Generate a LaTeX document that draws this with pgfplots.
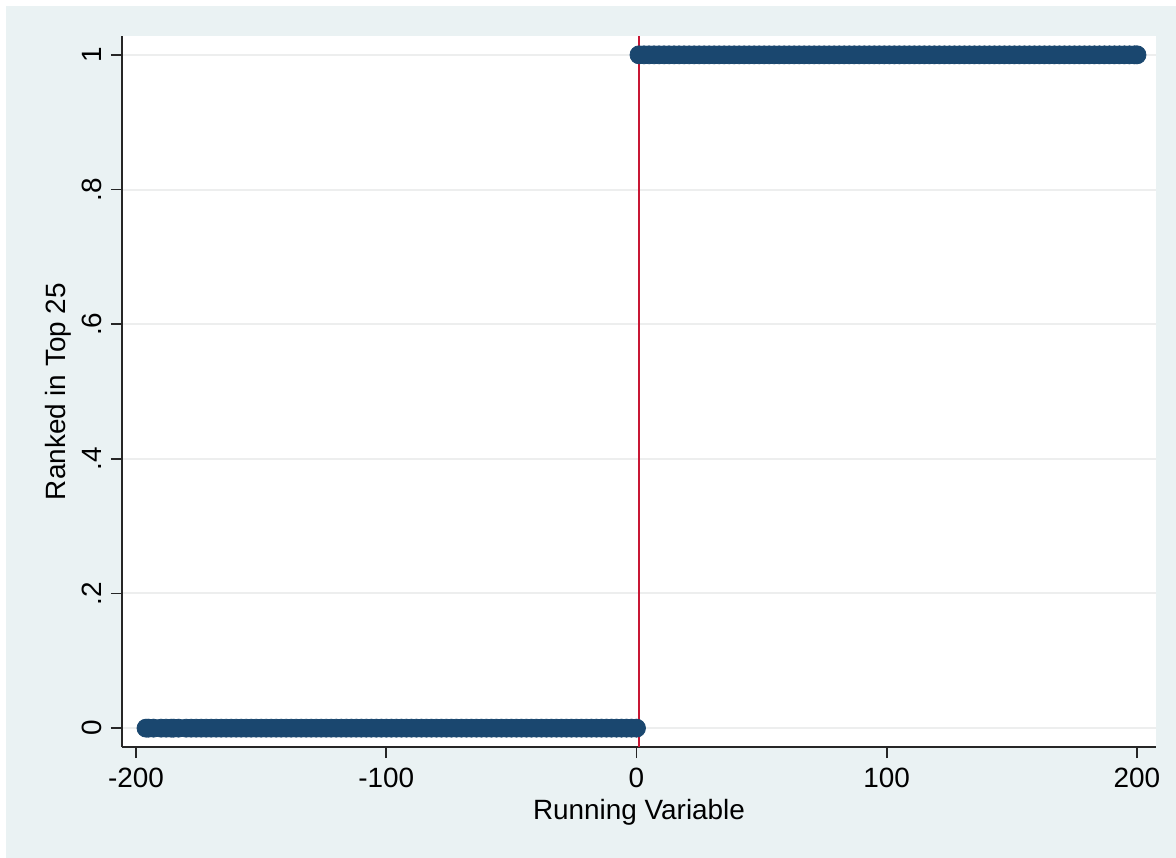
\documentclass[border=0pt]{standalone}
\usepackage{pgfplots}
\pgfplotsset{compat=1.18}
\usepackage{fontspec}
\setmainfont{Liberation Sans}
\definecolor{bgblue}{HTML}{EAF2F3}
\definecolor{stnavy}{HTML}{1A476F}
\definecolor{stred}{RGB}{200,22,52}
\definecolor{gridc}{HTML}{EDEEEE}
\begin{document}
\fontsize{14}{16}\selectfont
\begin{tikzpicture}
\fill[white] (-61bp,-55.5bp) rectangle (527bp,373.5bp);
\fill[bgblue] (-58bp,-55.5bp) rectangle (527bp,370.5bp);
\begin{axis}[
  at={(0,0)}, anchor=south west,
  scale only axis, width=517bp, height=355.5bp,
  xmin=-205.6, xmax=207.6, ymin=-0.028, ymax=1.028,
  axis x line*=bottom, axis y line*=left,
  axis line style={-, line width=0.8bp, black!85},
  axis background/.style={fill=white},
  xtick={-200,-100,0,100,200},
  xticklabels={-200,-100,0,100,200},
  ytick={0,0.2,0.4,0.6,0.8,1},
  yticklabels={0,.2,.4,.6,.8,1},
  tick align=outside, major tick length=5.5bp,
  tick style={line width=0.8bp, black!85},
  ymajorgrids, major grid style={gridc, line width=1bp},
  xticklabel style={font=\fontsize{14}{16}\selectfont},
  yticklabel style={rotate=90, font=\fontsize{14}{16}\selectfont},
  xlabel={Running Variable}, ylabel={Ranked in Top 25},
  label style={font=\fontsize{14}{16}\selectfont},
  xlabel style={at={(axis description cs:0.5,-0.0914)}, anchor=center},
  ylabel style={at={(axis description cs:-0.0619,0.5)}, anchor=center},
  clip=false,
]
\addplot[only marks, mark=*, mark size=4.5bp, color=stnavy, mark options={fill=stnavy, draw=stnavy}] table[row sep=\\] {
x y\\
-196 0\\ -195 0\\ -193 0\\ -190 0\\ -188 0\\ -186 0\\ -185 0\\ -183 0\\ -180 0\\ -178 0\\
-176 0\\ -174 0\\ -172 0\\ -170 0\\ -168 0\\ -166 0\\ -164 0\\ -162 0\\ -160 0\\ -158 0\\
-156 0\\ -154 0\\ -152 0\\ -150 0\\ -148 0\\ -146 0\\ -144 0\\ -142 0\\ -140 0\\ -138 0\\
-136 0\\ -134 0\\ -132 0\\ -130 0\\ -128 0\\ -126 0\\ -124 0\\ -122 0\\ -120 0\\ -118 0\\
-116 0\\ -114 0\\ -112 0\\ -110 0\\ -108 0\\ -106 0\\ -104 0\\ -102 0\\ -100 0\\ -98 0\\
-96 0\\ -94 0\\ -92 0\\ -90 0\\ -88 0\\ -86 0\\ -84 0\\ -82 0\\ -80 0\\ -78 0\\
-76 0\\ -74 0\\ -72 0\\ -70 0\\ -68 0\\ -66 0\\ -64 0\\ -62 0\\ -60 0\\ -58 0\\
-56 0\\ -54 0\\ -52 0\\ -50 0\\ -48 0\\ -46 0\\ -44 0\\ -42 0\\ -40 0\\ -38 0\\
-36 0\\ -34 0\\ -32 0\\ -30 0\\ -28 0\\ -26 0\\ -24 0\\ -22 0\\ -20 0\\ -18 0\\
-16 0\\ -14 0\\ -12 0\\ -10 0\\ -8 0\\ -6 0\\ -4 0\\ -2 0\\ 0 0\\
1 1\\ 3 1\\ 5 1\\ 7 1\\ 9 1\\ 11 1\\ 13 1\\ 15 1\\ 17 1\\ 19 1\\
21 1\\ 23 1\\ 25 1\\ 27 1\\ 29 1\\ 31 1\\ 33 1\\ 35 1\\ 37 1\\ 39 1\\
41 1\\ 43 1\\ 45 1\\ 47 1\\ 49 1\\ 51 1\\ 53 1\\ 55 1\\ 57 1\\ 59 1\\
61 1\\ 63 1\\ 65 1\\ 67 1\\ 69 1\\ 71 1\\ 73 1\\ 75 1\\ 77 1\\ 79 1\\
81 1\\ 83 1\\ 85 1\\ 87 1\\ 89 1\\ 91 1\\ 93 1\\ 95 1\\ 97 1\\ 99 1\\
101 1\\ 103 1\\ 105 1\\ 107 1\\ 109 1\\ 111 1\\ 113 1\\ 115 1\\ 117 1\\ 119 1\\
121 1\\ 123 1\\ 125 1\\ 127 1\\ 129 1\\ 131 1\\ 133 1\\ 135 1\\ 137 1\\ 139 1\\
141 1\\ 143 1\\ 145 1\\ 147 1\\ 149 1\\ 151 1\\ 153 1\\ 155 1\\ 157 1\\ 159 1\\
161 1\\ 163 1\\ 165 1\\ 167 1\\ 169 1\\ 171 1\\ 173 1\\ 175 1\\ 177 1\\ 179 1\\
181 1\\ 183 1\\ 185 1\\ 187 1\\ 189 1\\ 191 1\\ 193 1\\ 195 1\\ 197 1\\ 199 1\\ 200 1\\
};
\draw[stred, line width=1bp] (axis cs:0.8,-0.028) -- (axis cs:0.8,1.028);
\end{axis}
\end{tikzpicture}
\end{document}
